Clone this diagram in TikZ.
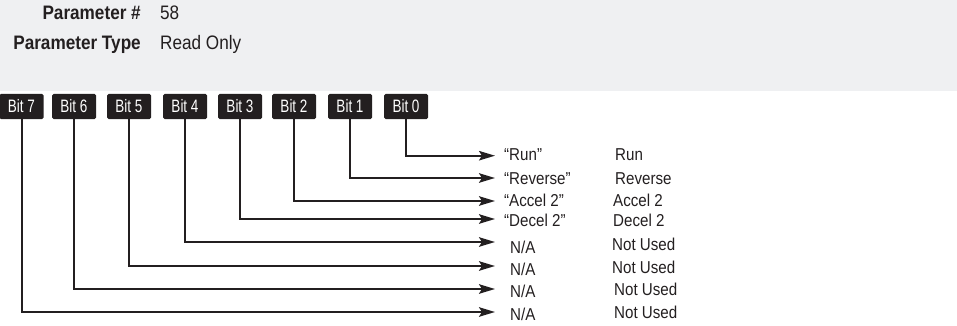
\documentclass[tikz,border=0pt]{standalone}
\usepackage{fontspec}
\setmainfont{Liberation Sans}[FakeStretch=0.88]
\newfontfamily\bitfont{Liberation Sans}[FakeStretch=0.75]
\usetikzlibrary{arrows.meta}
\definecolor{bg}{HTML}{EFF0F2}
\definecolor{ink}{HTML}{231F20}
\begin{document}
\begin{tikzpicture}[x=1pt,y=-1pt,
  bitbox/.style={fill=ink, text=white, rounded corners=1.5pt, minimum width=44pt, minimum height=25pt, inner sep=0pt, font=\bitfont\fontsize{18}{18}\selectfont},
  lbl/.style={anchor=base west, inner sep=0pt, text=ink, font=\fontsize{17.2}{19}\selectfont},
  hdr/.style={inner sep=0pt, text=ink, font=\fontsize{19.5}{21}\selectfont},
  hdrb/.style={inner sep=0pt, text=ink, font=\fontsize{19.5}{21}\selectfont\bfseries},
  conn/.style={draw=ink, line width=2pt, -{Stealth[length=16pt,width=9.5pt,inset=3pt]}}]
\useasboundingbox (0,0) rectangle (957,326);
\fill[bg] (0,0) rectangle (957,91);
% header
\node[hdrb, anchor=base east] (pn) at (141,20) {Parameter \#};
\node[hdr, anchor=base west] (pv) at (160,20) {58};
\node[hdrb, anchor=base east] (tn) at (141,49.5) {Parameter Type};
\node[hdr, anchor=base west] (tv) at (160,49.5) {Read Only};
% bit boxes
\node[bitbox] (b7) at (21.5,106.5) {Bit 7};
\node[bitbox] (b6) at (74,106.5) {Bit 6};
\node[bitbox] (b5) at (129,106.5) {Bit 5};
\node[bitbox] (b4) at (185,106.5) {Bit 4};
\node[bitbox] (b3) at (240,106.5) {Bit 3};
\node[bitbox] (b2) at (294,106.5) {Bit 2};
\node[bitbox] (b1) at (350,106.5) {Bit 1};
\node[bitbox] (b0) at (406,106.5) {Bit 0};
% arrow tips
\coordinate (t0) at (495,155.7);
\coordinate (t1) at (495,178);
\coordinate (t2) at (495,201);
\coordinate (t3) at (495,219);
\coordinate (t4) at (495,242);
\coordinate (t5) at (495,266);
\coordinate (t6) at (495,289);
\coordinate (t7) at (495,312);
\foreach \i in {0,...,7}{\draw[conn] (b\i.south) |- (t\i);}
% quoted labels
\node[lbl] (q0) at (504,160) {“Run”};
\node[lbl] (q1) at (504,184) {“Reverse”};
\node[lbl] (q2) at (504,206) {“Accel 2”};
\node[lbl] (q3) at (504,226.5) {“Decel 2”};
\node[lbl] (q4) at (510,253) {N/A};
\node[lbl] (q5) at (510,275) {N/A};
\node[lbl] (q6) at (510,297) {N/A};
\node[lbl] (q7) at (510,320.5) {N/A};
% descriptions
\node[lbl] (d0) at (615,160) {Run};
\node[lbl] (d1) at (615,184) {Reverse};
\node[lbl] (d2) at (613,206) {Accel 2};
\node[lbl] (d3) at (613,226.5) {Decel 2};
\node[lbl] (d4) at (612,250) {Not Used};
\node[lbl] (d5) at (612,273) {Not Used};
\node[lbl] (d6) at (614,295) {Not Used};
\node[lbl] (d7) at (614,318) {Not Used};
\end{tikzpicture}
\end{document}
